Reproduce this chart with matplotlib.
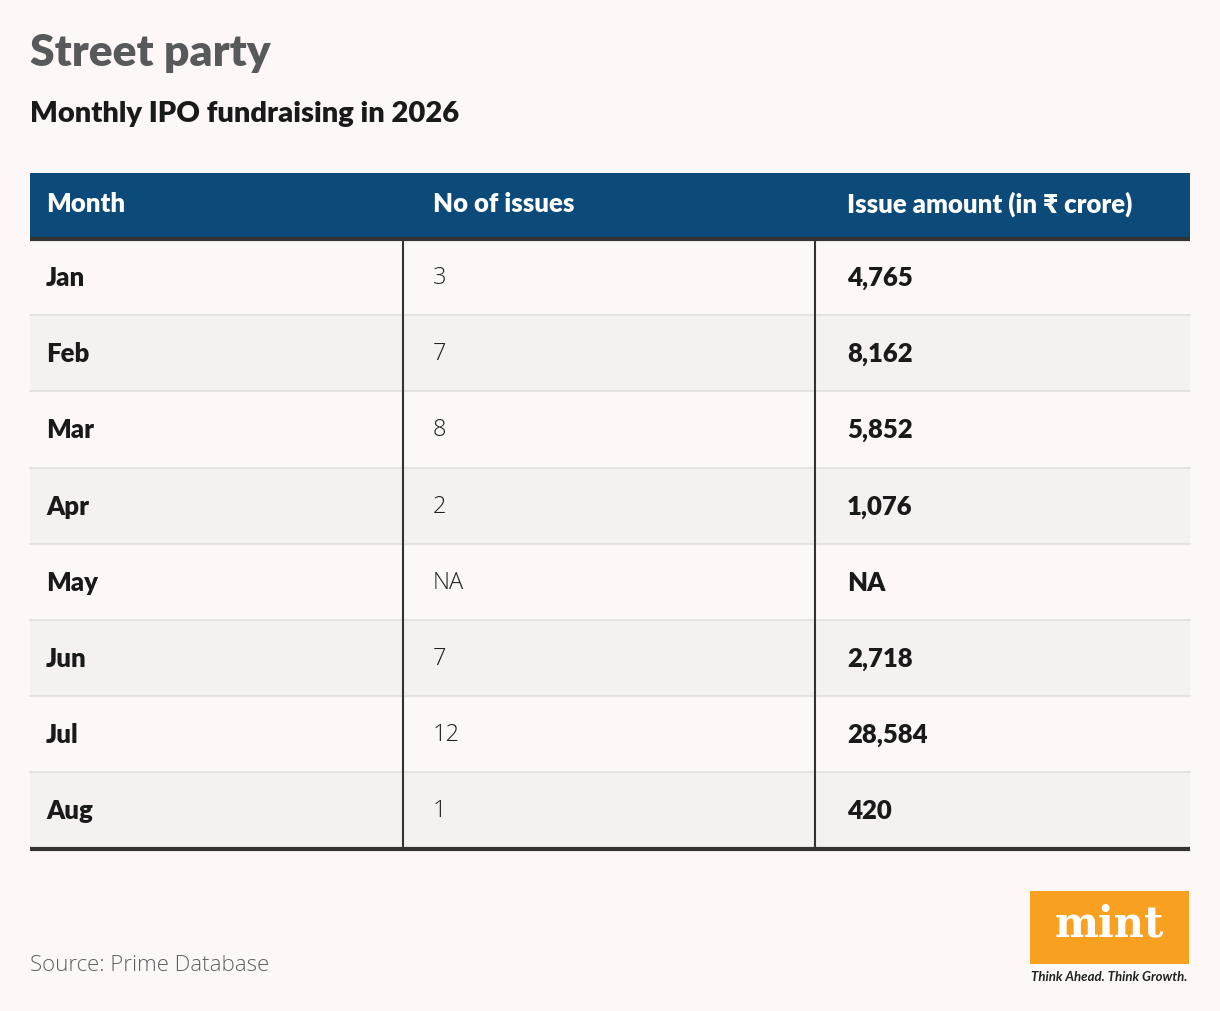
import matplotlib.pyplot as plt
from matplotlib.patches import Rectangle

months = ['Jan', 'Feb', 'Mar', 'Apr', 'May', 'Jun', 'Jul', 'Aug']
issues = ['3', '7', '8', '2', 'NA', '7', '12', '1']
amounts = ['4,765', '8,162', '5,852', '1,076', 'NA', '2,718', '28,584', '420']
headers = ['Month', 'No of issues', 'Issue amount (in \u20b9 crore)']

BG = '#fdf8f7'
ALT = '#f5f1f0'
NAVY = '#0c4a7a'
FONT = ['Lato', 'DejaVu Sans']
LIGHT = ['Open Sans', 'DejaVu Sans']

fig = plt.figure(figsize=(12.2, 10.12), dpi=100, facecolor=BG)
ax = fig.add_axes([0, 0, 1, 1])
ax.set_xlim(0, 1220)
ax.set_ylim(1012, 0)
ax.axis('off')

ax.text(30, 53, 'Street party', fontsize=32, fontweight='heavy', color='#58595b',
        family=FONT, va='center')
ax.text(30, 114, 'Monthly IPO fundraising in 2026', fontsize=21, fontweight='heavy',
        color='#1a1a1a', family=FONT, va='center')

left, right = 30, 1190
col_x = [30, 403, 815]
text_x = [46, 433, 847]
head_top, head_bot = 174, 240
row_h = 76.2

ax.add_patch(Rectangle((left, head_top), right - left, head_bot - head_top, color=NAVY, lw=0))
for x, h in zip(text_x, headers):
    ax.text(x, 204, h, fontsize=18.5, fontweight='heavy', color='white', family=FONT, va='center')
ax.plot([left, right], [head_bot, head_bot], color='#333333', lw=3, solid_capstyle='butt')

for i, (m, n, a) in enumerate(zip(months, issues, amounts)):
    y0 = head_bot + i * row_h
    fc = BG if i % 2 == 0 else ALT
    ax.add_patch(Rectangle((left, y0), right - left, row_h, color=fc, lw=0, zorder=0))
    if i > 0:
        ax.plot([left, right], [y0, y0], color='#e2dedd', lw=1.2, zorder=1)
    yc = y0 + row_h / 2
    ax.text(text_x[0], yc, m, fontsize=18.5, fontweight='heavy', color='#1a1a1a', family=FONT, va='center')
    ax.text(text_x[1], yc, n, fontsize=17, fontweight=300, color='#222222', family=LIGHT, va='center')
    ax.text(text_x[2], yc, a, fontsize=18.5, fontweight='heavy', color='#1a1a1a', family=FONT, va='center')

bottom = head_bot + len(months) * row_h
for x in col_x[1:]:
    ax.plot([x, x], [head_bot, bottom], color='#333333', lw=1.5, zorder=2)
ax.plot([left, right], [bottom, bottom], color='#333333', lw=3, solid_capstyle='butt', zorder=3)

ax.text(30, 966, 'Source: Prime Database', fontsize=16, fontweight=300, color='#5f6062',
        family=LIGHT, va='center')

# mint logo
ax.add_patch(Rectangle((1030, 892), 159, 73, color='#f8a01f', lw=0))
ax.text(1109, 925, 'mint', fontsize=30, fontweight='bold', color='white',
        family=['DejaVu Serif'], ha='center', va='center')
ax.text(1109, 977, 'Think Ahead. Think Growth.', fontsize=9.5, style='italic', fontweight='bold',
        color='#222222', family=FONT, ha='center', va='center')

fig.savefig('out.png', dpi=100, facecolor=BG)
